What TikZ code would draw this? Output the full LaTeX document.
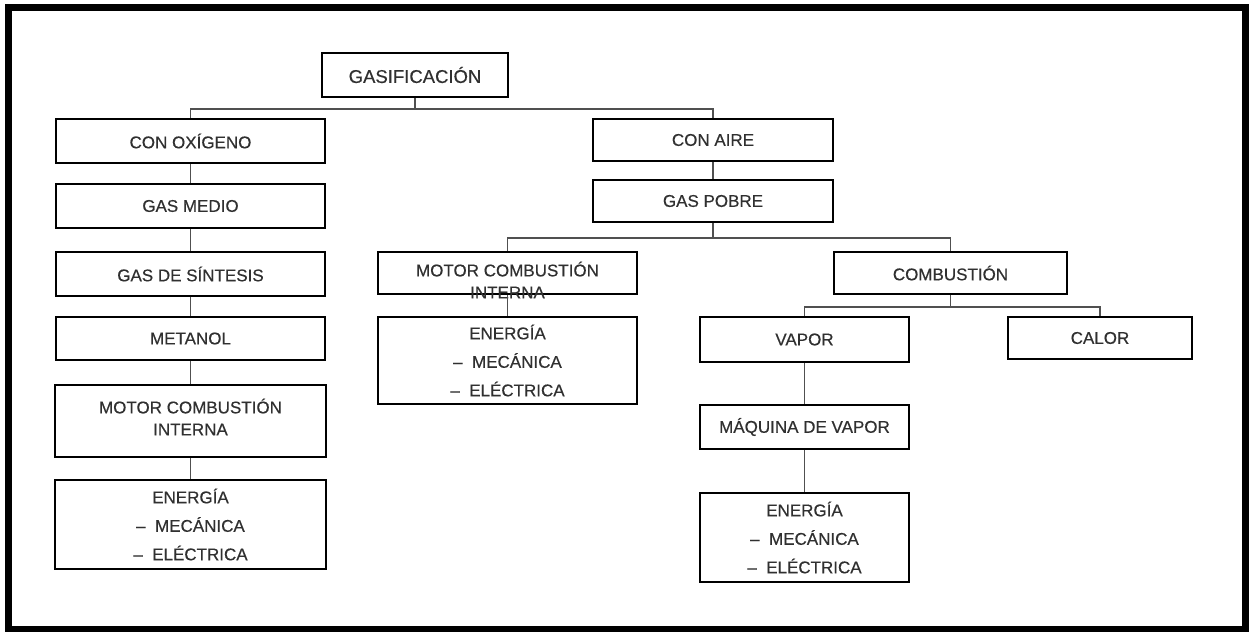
\documentclass[tikz,border=0pt]{standalone}
\usepackage{fontspec}
\setmainfont[FakeBold=0]{Liberation Sans}
\newfontfamily\lbl[FakeBold=0.45]{Liberation Sans}
\definecolor{txt}{HTML}{303030}
\definecolor{lnk}{HTML}{505050}
\begin{document}
\begin{tikzpicture}[x=1pt,y=-1pt,
  box/.style={draw=black, line width=1.9pt, rectangle, inner sep=0pt, text=txt,
    font=\lbl\fontsize{17}{22}\selectfont, align=center},
  ebox/.style={box, font=\lbl\fontsize{17}{28.5}\selectfont},
  conn/.style={draw=lnk, line width=1.5pt}]
\useasboundingbox (0,0) rectangle (1251,632);
\draw[line width=7pt] (8.5,7) rectangle (1245,629.5);

% left branch
\node[box, minimum width=186, minimum height=44, font=\lbl\fontsize{18.5}{22}\selectfont] (gas) at (415,75) {GASIFICACIÓN};
\node[box, minimum width=269, minimum height=44] (oxi) at (190.5,141) {CON OXÍGENO};
\node[box, minimum width=269, minimum height=44] (medio) at (190.5,206) {GAS MEDIO};
\node[box, minimum width=269, minimum height=44] (sint) at (190.5,274) {GAS DE SÍNTESIS};
\node[box, minimum width=269, minimum height=43] (meta) at (190.5,338.5) {METANOL};
\node[box, minimum width=271, minimum height=72] (motorl) at (190.5,421) {};
\node[text=txt, font=\lbl\fontsize{17}{22}\selectfont, align=center, inner sep=0pt] (motorlt) at (190.5,417) {MOTOR COMBUSTIÓN\\INTERNA};
\node[ebox, minimum width=271, minimum height=89] (energl) at (190.5,524.5) {ENERGÍA\\–\ \ MECÁNICA\\–\ \ ELÉCTRICA};

% right branch
\node[box, minimum width=240, minimum height=42] (aire) at (713,140) {CON AIRE};
\node[box, minimum width=240, minimum height=42] (pobre) at (713,201) {GAS POBRE};
\node[box, minimum width=259, minimum height=42] (motorm) at (507.5,273) {};
\node[text=txt, font=\lbl\fontsize{17}{22}\selectfont, align=center, inner sep=0pt] (motormt) at (507.5,280) {MOTOR COMBUSTIÓN\\INTERNA};
\node[ebox, minimum width=259, minimum height=87] (energm) at (507.5,360.5) {ENERGÍA\\–\ \ MECÁNICA\\–\ \ ELÉCTRICA};
\node[box, minimum width=233, minimum height=42] (comb) at (950.5,273) {COMBUSTIÓN};
\node[box, minimum width=209, minimum height=45] (vapor) at (804.5,339.5) {VAPOR};
\node[box, minimum width=184, minimum height=42] (calor) at (1100,338) {CALOR};
\node[box, minimum width=209, minimum height=44] (maq) at (804.5,427) {MÁQUINA DE VAPOR};
\node[ebox, minimum width=209, minimum height=89] (energr) at (804.5,537.5) {ENERGÍA\\–\ \ MECÁNICA\\–\ \ ELÉCTRICA};

% connectors
\draw[conn] (gas.south) -- ++(0,11) -| (oxi.north);
\draw[conn] (gas.south) -- ++(0,11) -| (aire.north);
\draw[conn] (oxi) -- (medio);
\draw[conn] (medio) -- (sint);
\draw[conn] (sint) -- (meta);
\draw[conn] (meta) -- (motorl);
\draw[conn] (motorl) -- (energl);
\draw[conn] (aire) -- (pobre);
\draw[conn] (pobre.south) -- ++(0,15) -| (motorm.north);
\draw[conn] (pobre.south) -- ++(0,15) -| (comb.north);
\draw[conn] (motorm.south) -- (energm.north);
\draw[conn] (comb.south) -- ++(0,12) -| (vapor.north);
\draw[conn] (comb.south) -- ++(0,12) -| (calor.north);
\draw[conn] (vapor) -- (maq);
\draw[conn] (maq) -- (energr);
\end{tikzpicture}
\end{document}
